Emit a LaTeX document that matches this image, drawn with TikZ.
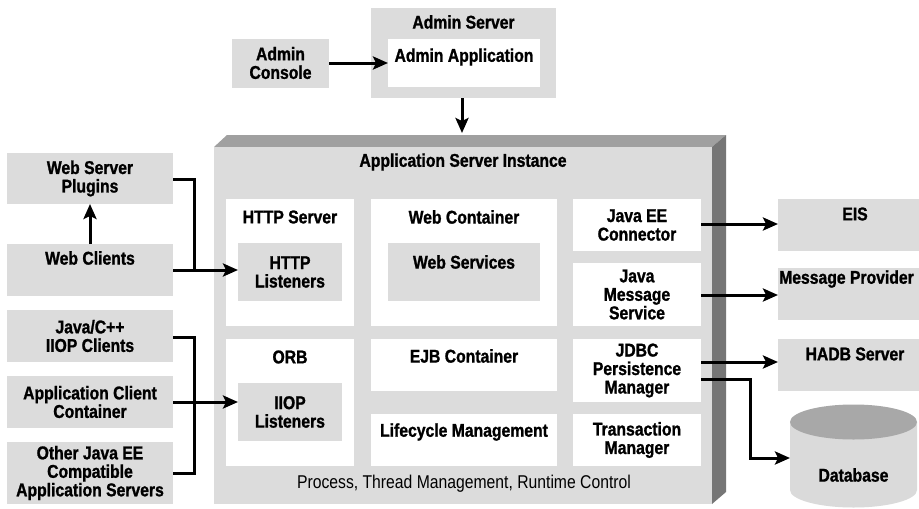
\documentclass[tikz,border=0pt]{standalone}
\usepackage{fontspec}
\setmainfont{Liberation Sans}[FakeStretch=0.85, BoldFeatures={FakeBold=1.2}]
\usetikzlibrary{arrows.meta,calc}
\definecolor{boxgray}{RGB}{220,220,220}
\definecolor{topgray}{RGB}{160,160,160}
\definecolor{sidegray}{RGB}{118,118,118}
\definecolor{dbtop}{RGB}{168,168,168}
\definecolor{dbbody}{RGB}{218,218,218}
\newcommand{\mybox}[6]{\node[#6, minimum width={#4-#2}, minimum height={#5-#3}] (#1) at ({(#2+#4)/2},{(#3+#5)/2}) {};}
\tikzset{
  gbox/.style={fill=boxgray, draw=none, inner sep=0pt, outer sep=0pt},
  wbox/.style={fill=white, draw=none, inner sep=0pt, outer sep=0pt},
  lbl/.style={inner sep=0pt, align=center, font=\bfseries\fontsize{18.5}{18.5}\selectfont},
  rlbl/.style={inner sep=0pt, align=center, font=\fontsize{18.5}{18.5}\selectfont},
  conn/.style={line width=3pt},
  arr/.style={line width=3pt, -{Stealth[length=15pt,width=13pt,inset=3pt]}},
}
\begin{document}
\begin{tikzpicture}[x=1pt,y=-1pt]
\useasboundingbox (0,0) rectangle (919,509);
\clip (0,0) rectangle (919,509);
\fill[white] (0,0) rectangle (919,509);

% Admin
\mybox{as}{371}{8}{556}{98}{gbox}
\mybox{aa}{388}{39}{540}{87}{wbox}
\mybox{ac}{232}{39}{329}{88}{gbox}
\node[lbl] (asl) at (463.5,22) {Admin Server};
\node[lbl] (aal) at (464,57) {Admin Application};
\node[lbl] (acl) at (280.5,63) {Admin\\Console};

% Main 3D box
\fill[topgray] (214,147) -- (227,135) -- (726,135) -- (712,147) -- cycle;
\fill[sidegray] (712,147) -- (726,135) -- (726,492) -- (712,504) -- cycle;
\mybox{asi}{214}{147}{712}{504}{gbox}
\coordinate (asitop) at (462,133);
\node[lbl] (asil) at (463,162) {Application Server Instance};

\mybox{hs}{226}{199}{354}{326}{wbox}
\node[lbl] (hsl) at (290,217) {HTTP Server};
\mybox{hl}{238}{243}{342}{301}{gbox}
\node[lbl] (hll) at (290,272) {HTTP\\Listeners};

\mybox{orb}{226}{339}{354}{466}{wbox}
\node[lbl] (orbl) at (290,357) {ORB};
\mybox{il}{238}{383}{342}{441}{gbox}
\node[lbl] (ill) at (290,412) {IIOP\\Listeners};

\mybox{wcon}{371}{199}{557}{326}{wbox}
\node[lbl] (wconl) at (464,217) {Web Container};
\mybox{ws}{388}{243}{540}{301}{gbox}
\node[lbl] (wsl) at (464,262) {Web Services};

\mybox{jee}{573}{199}{701}{251}{wbox}
\node[lbl] (jeel) at (637,225) {Java EE\\Connector};
\mybox{jms}{573}{263}{701}{326}{wbox}
\node[lbl] (jmsl) at (637,294.5) {Java\\Message\\Service};

\mybox{ejb}{371}{339}{557}{391}{wbox}
\node[lbl] (ejbl) at (464,356) {EJB Container};
\mybox{jdbc}{573}{339}{701}{402}{wbox}
\node[lbl] (jdbcl) at (637,370.5) {JDBC\\Persistence\\Manager};

\mybox{lc}{371}{414}{557}{466}{wbox}
\node[lbl] (lcl) at (464,432) {Lifecycle Management};
\mybox{tm}{573}{414}{701}{466}{wbox}
\node[lbl] (tml) at (637,440) {Transaction\\Manager};

\node[rlbl] (procl) at (464,484) {Process, Thread Management, Runtime Control};

% Left clients
\mybox{wsp}{7}{153}{173}{204}{gbox}
\node[lbl] (wspl) at (90,178.5) {Web Server\\Plugins};
\mybox{wc}{7}{244}{173}{296}{gbox}
\node[lbl] (wcl) at (90,258) {Web Clients};
\mybox{jc}{7}{310}{173}{362}{gbox}
\node[lbl] (jcl) at (90,336) {Java/C++\\IIOP Clients};
\mybox{acc}{7}{376}{173}{428}{gbox}
\node[lbl] (accl) at (90,402) {Application Client\\Container};
\mybox{oj}{7}{442}{173}{504}{gbox}
\node[lbl] (ojl) at (90,473) {Other Java EE\\Compatible\\Application Servers};

% Right
\mybox{eis}{778}{199}{932}{251}{gbox}
\node[lbl] (eisl) at (855,214) {EIS};
\mybox{mp}{778}{268}{932}{320}{gbox}
\node[lbl, anchor=west] (mpl) at (779,279) {Message Provider};
\mybox{hadb}{778}{339}{932}{391}{gbox}
\node[lbl] (hadbl) at (855,354) {HADB Server};

% Database
\fill[dbbody] (790,422) -- (790,490) arc[start angle=180,end angle=360,x radius=63.5pt,y radius=17.5pt] -- (917,422) -- cycle;
\fill[dbtop] (853.5,422) ellipse [x radius=63.5pt, y radius=17.5pt];
\node[inner sep=0pt, outer sep=0pt, minimum width=127pt, minimum height=20pt] (db) at (853.5,458) {};
\node[lbl] (dbl) at (853.5,475) {Database};

% Connectors
\draw[arr] (ac.east |- 0,63) -- (aa.west |- 0,63);
\draw[arr] (as.south -| asitop) -- (asitop);

\coordinate (j1) at (194,270);
\draw[arr] (wc.north) -- (wsp.south);
\draw[conn] (wsp.east |- 0,179) -| (j1);
\draw[arr] (wc.east |- j1) -- (hl.west |- j1);

\coordinate (j2) at (194,402);
\draw[conn] (jc.east |- 0,337) -| (j2);
\draw[conn] (oj.east |- 0,473) -| (j2);
\draw[arr] (acc.east |- j2) -- (il.west |- j2);

\draw[arr] (jee.east |- 0,224) -- (eis.west |- 0,224);
\draw[arr] (jms.east |- 0,295) -- (mp.west |- 0,295);
\draw[arr] (jdbc.east |- 0,362) -- (hadb.west |- 0,362);
\coordinate (j3) at (750,379);
\draw[arr] (jdbc.east |- j3) -- (j3) |- (db.west);
\end{tikzpicture}
\end{document}
